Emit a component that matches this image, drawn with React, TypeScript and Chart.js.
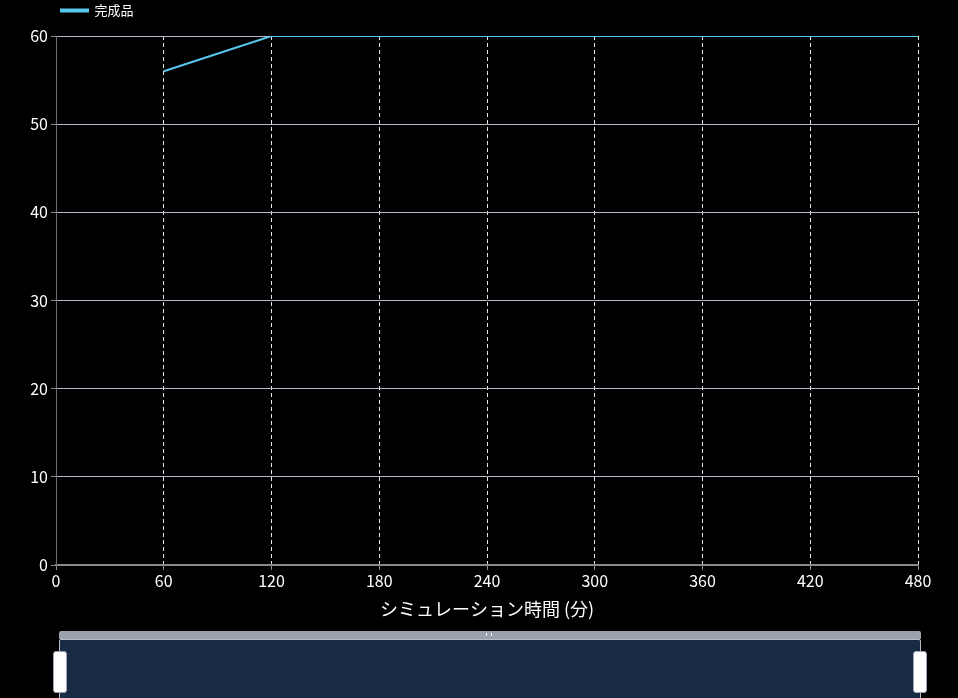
import React, { useEffect, useRef } from "react";
import { Chart, registerables } from "chart.js";

Chart.register(...registerables);

const seriesName = "完成品";
const xValues = [60, 120, 180, 240, 300, 360, 420, 480];
const yValues = [56, 60, 60, 60, 60, 60, 60, 60];
const xTitle = "シミュレーション時間 (分)";
const xMin = 0;
const xMax = 480;
const xStep = 60;
const yMin = 0;
const yMax = 60;
const yStep = 10;

const FONT = "'Noto Sans CJK JP', 'Noto Sans', sans-serif";

export default function App() {
  const ref = useRef<HTMLCanvasElement | null>(null);
  useEffect(() => {
    if (!ref.current) return;
    const chart = new Chart(ref.current, {
      type: "line",
      data: {
        datasets: [
          {
            label: seriesName,
            data: xValues.map((x, i) => ({ x, y: yValues[i] })),
            borderColor: "#56c8ee",
            backgroundColor: "#56c8ee",
            borderWidth: 2,
            pointRadius: 0,
            tension: 0,
          },
        ],
      },
      options: {
        animation: false,
        responsive: false,
        maintainAspectRatio: false,
        layout: { padding: { left: 0, right: 40, top: 0, bottom: 0 } },
        plugins: {
          legend: {
            display: true,
            position: "top",
            align: "start",
            labels: {
              color: "#ffffff",
              font: { family: FONT, size: 13 },
              boxWidth: 27,
              boxHeight: 2,
              padding: 4,
            },
          },
          tooltip: { enabled: false },
        },
        scales: {
          x: {
            type: "linear",
            min: xMin,
            max: xMax,
            ticks: {
              stepSize: xStep,
              color: "#ffffff",
              font: { family: FONT, size: 16 },
              padding: 1,
            },
            grid: {
              color: "#e6e6e6",
              tickColor: "#888888",
              tickLength: 5,
              drawTicks: true,
              tickBorderDash: [],
            },
            border: { display: true, color: "#8a8a8e", width: 2, dash: [4, 3] },
            title: {
              display: true,
              text: xTitle,
              color: "#ffffff",
              font: { family: FONT, size: 18 },
              padding: { top: 2, bottom: 0 },
            },
            afterFit: (scale: any) => {
              scale.height = 55;
            },
          },
          y: {
            min: yMin,
            max: yMax,
            ticks: {
              stepSize: yStep,
              color: "#ffffff",
              font: { family: FONT, size: 16 },
              padding: 3,
            },
            grid: {
              color: "#b4b8c8",
              tickColor: "#888888",
              tickLength: 5,
            },
            border: { display: true, color: "#6c6c72", width: 1 },
            afterFit: (scale: any) => {
              scale.width = 56;
            },
          },
        },
      },
      plugins: [
        {
          id: "bgAndLegendFit",
          afterInit: (c: any) => {
            const lg = c.legend;
            if (lg && !lg.__patched) {
              const orig = lg.fit;
              lg.fit = function (this: any) {
                orig.call(this);
                this.height = 36;
              };
              lg.__patched = true;
            }
          },
          afterLayout: (c: any) => {
            const lg = c.legend;
            if (lg) {
              lg.left = 57;
              lg.right = lg.left + lg.width;
            }
          },
          beforeDraw: (c: any) => {
            const ctx = c.ctx;
            ctx.save();
            ctx.fillStyle = "#000000";
            ctx.fillRect(0, 0, c.width, c.height);
            ctx.restore();
          },
        },
      ],
    } as any);
    return () => chart.destroy();
  }, []);

  return (
    <div
      style={{
        position: "fixed",
        left: 0,
        top: 0,
        width: 958,
        height: 698,
        background: "#000",
        overflow: "hidden",
      }}
    >
      <canvas ref={ref} width={958} height={620} style={{ display: "block" }} />
      <div
        style={{
          position: "absolute",
          left: 59,
          top: 631,
          width: 862,
          height: 8,
          background: "#9ba1ad",
          borderRadius: "2px 2px 0 0",
        }}
      />
      <div
        style={{
          position: "absolute",
          left: 486,
          top: 633,
          width: 6,
          height: 3,
          borderLeft: "1px solid #fff",
          borderRight: "1px solid #fff",
          boxSizing: "border-box",
        }}
      />
      <div
        style={{
          position: "absolute",
          left: 59,
          top: 639,
          width: 862,
          height: 70,
          background: "#192a44",
          border: "1px solid #b8bec8",
          borderRadius: 2,
          boxSizing: "border-box",
        }}
      />
      <div
        style={{
          position: "absolute",
          left: 53,
          top: 651,
          width: 14,
          height: 42,
          background: "#ffffff",
          border: "1px solid #9aa4b4",
          borderRadius: 3,
          boxSizing: "border-box",
        }}
      />
      <div
        style={{
          position: "absolute",
          left: 913,
          top: 651,
          width: 14,
          height: 42,
          background: "#ffffff",
          border: "1px solid #9aa4b4",
          borderRadius: 3,
          boxSizing: "border-box",
        }}
      />
    </div>
  );
}
